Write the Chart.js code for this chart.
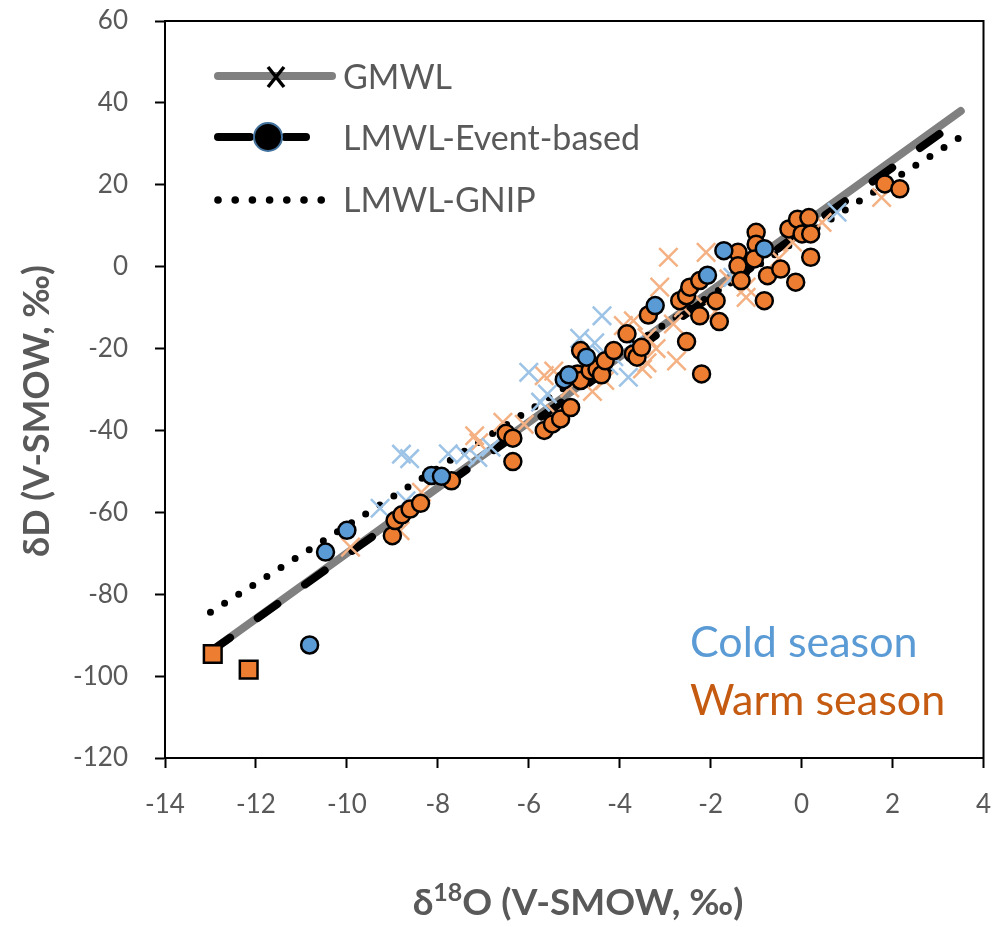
<!DOCTYPE html>
<html>
<head>
<meta charset="utf-8">
<script src="https://cdn.jsdelivr.net/npm/chart.js@4.4.1/dist/chart.umd.min.js"></script>
<style>
  body { margin: 0; background: #fff; }
</style>
</head>
<body>
<canvas id="chart" width="999" height="927"></canvas>
<script>
  // d18O, dD pairs
  const warmCircles = [
    [-9.00,-65.7],[-8.94,-62.0],[-8.79,-60.6],[-8.61,-59.2],[-8.38,-57.8],[-7.70,-52.3],
    [-6.50,-40.7],[-6.35,-41.9],[-6.35,-47.6],[-5.66,-40.0],[-5.48,-38.4],[-5.30,-37.2],[-5.08,-34.4],
    [-4.93,-26.2],[-4.86,-27.8],[-4.65,-25.4],[-4.50,-25.0],[-4.40,-26.4],[-4.86,-20.5],[-4.32,-23.0],[-4.13,-20.5],
    [-3.84,-16.4],[-3.70,-21.3],[-3.62,-22.1],[-3.52,-19.7],[-3.37,-11.8],
    [-2.68,-8.3],[-2.53,-7.1],[-2.46,-5.0],[-2.24,-3.4],[-1.88,-8.3],[-2.24,-12.0],[-1.81,-13.4],[-2.53,-18.3],[-2.20,-26.2],
    [-1.00,8.4],[-0.28,9.2],[-0.09,11.6],[0.16,12.0],[0.01,8.0],[0.20,8.0],[-1.00,5.5],[-1.04,1.9],[-1.40,3.5],[-1.40,0.2],
    [-1.33,-3.4],[-0.75,-2.2],[-0.46,-0.6],[-0.13,-3.8],[0.20,2.3],[-0.82,-8.3],[1.83,20.2],[2.16,19.0]
  ];
  const coldCircles = [
    [-10.82,-92.4],[-10.47,-69.7],[-10.00,-64.4],[-8.14,-51.0],[-7.92,-51.2],[-5.22,-27.6],
    [-5.12,-26.4],[-4.73,-22.1],[-3.22,-9.5],[-2.07,-2.1],[-1.71,3.9],[-0.82,4.4]
  ];
  const warmSquares = [[-12.95,-94.6],[-12.16,-98.4]];
  const coldCrosses = [
    [-9.27,-59.0],[-8.70,-57.2],[-8.80,-45.8],[-8.62,-46.9],[-7.77,-45.7],[-7.41,-45.9],[-7.12,-46.6],[-6.83,-44.1],
    [-6.00,-25.8],[-5.74,-33.1],[-5.59,-31.1],[-4.39,-12.0],[-4.88,-17.5],[-4.55,-18.6],[-4.24,-24.2],[-4.13,-22.0],
    [-4.40,-21.5],[-3.81,-27.0],[-3.70,-19.3],[-1.51,-2.6],[0.78,13.3]
  ];
  const warmCrosses = [
    [-9.92,-68.5],[-8.83,-64.5],[-8.36,-55.1],[-7.19,-41.3],[-7.10,-43.0],[-6.57,-38.0],[-6.10,-38.5],[-5.66,-26.6],
    [-5.45,-25.5],[-5.40,-36.0],[-5.10,-29.6],[-4.60,-30.5],[-4.33,-27.8],[-3.92,-14.4],[-3.70,-13.2],[-3.50,-25.0],
    [-3.40,-23.5],[-3.40,-17.3],[-3.20,-20.0],[-3.12,-5.0],[-2.93,2.3],[-2.82,-14.0],[-2.75,-23.0],[-2.60,-10.0],
    [-2.40,-6.5],[-2.10,3.5],[-1.90,-11.0],[-1.60,-3.0],[-1.22,-5.0],[-1.22,-7.5],[-0.50,2.0],[-0.20,6.0],
    [0.45,10.8],[1.76,16.9]
  ];
  // line end points
  const gmwlLine = [[-13,-94],[3.5,38]];
  const eventLine = [[-13,-94],[3.3,34.5]];
  const gnipLine = [[-13,-84.4],[3.5,31.7]];

  const xTicks = [-14,-12,-10,-8,-6,-4,-2,0,2,4];
  const yTicks = [-120,-100,-80,-60,-40,-20,0,20,40,60];

  const FONT = 'Lato, "Open Sans", sans-serif';
  const GREY_TEXT = '#595959';
  const pts = arr => arr.map(p => ({x: p[0], y: p[1]}));

  const overlay = {
    id: 'overlay',
    afterDraw(chart) {
      const ctx = chart.ctx;
      const a = chart.chartArea;
      ctx.save();
      // box round the plot
      ctx.strokeStyle = '#000';
      ctx.lineWidth = 2;
      ctx.strokeRect(a.left, a.top, a.right - a.left, a.bottom - a.top);

      // legend
      ctx.lineCap = 'round';
      ctx.strokeStyle = '#808080';
      ctx.lineWidth = 8;
      ctx.beginPath(); ctx.moveTo(218, 76); ctx.lineTo(332, 76); ctx.stroke();
      ctx.strokeStyle = '#000';
      ctx.lineWidth = 3.5;
      ctx.lineCap = 'butt';
      ctx.beginPath();
      ctx.moveTo(268, 67); ctx.lineTo(284, 87);
      ctx.moveTo(284, 67); ctx.lineTo(268, 87);
      ctx.stroke();

      ctx.lineCap = 'round';
      ctx.lineWidth = 8;
      ctx.beginPath(); ctx.moveTo(218, 137); ctx.lineTo(250, 137);
      ctx.moveTo(285, 137); ctx.lineTo(306, 137); ctx.stroke();
      ctx.beginPath(); ctx.arc(268, 137, 14, 0, Math.PI * 2);
      ctx.fillStyle = '#000'; ctx.fill();
      ctx.strokeStyle = '#41719C'; ctx.lineWidth = 2; ctx.stroke();

      ctx.fillStyle = '#000';
      for (let i = 0; i < 7; i++) {
        ctx.beginPath(); ctx.arc(218 + i * 17.2, 200, 3.8, 0, Math.PI * 2); ctx.fill();
      }

      ctx.fillStyle = GREY_TEXT;
      ctx.font = '34px ' + FONT;
      ctx.textAlign = 'left';
      ctx.textBaseline = 'middle';
      ctx.fillText('GMWL', 343, 78);
      ctx.fillText('LMWL-Event-based', 343, 139);
      ctx.fillText('LMWL-GNIP', 343, 201);

      // season labels
      ctx.font = '43px ' + FONT;
      ctx.fillStyle = '#5B9BD5';
      ctx.fillText('Cold season', 690, 643);
      ctx.fillStyle = '#C55A11';
      ctx.fillText('Warm season', 690, 701);

      // axis titles
      ctx.fillStyle = GREY_TEXT;
      ctx.font = 'bold 36px ' + FONT;
      ctx.save();
      ctx.translate(37, 411);
      ctx.rotate(-Math.PI / 2);
      ctx.textAlign = 'center';
      ctx.fillText('\u03B4D (V-SMOW, \u2030)', 0, 0);
      ctx.restore();

      const big = 'bold 37px ' + FONT, small = 'bold 25px ' + FONT;
      ctx.font = big;
      const w1 = ctx.measureText('\u03B4').width;
      const w3 = ctx.measureText('O (V-SMOW, \u2030)').width;
      ctx.font = small;
      const w2 = ctx.measureText('18').width;
      let x = 578 - (w1 + w2 + w3) / 2;
      const base = 915;
      ctx.textBaseline = 'alphabetic';
      ctx.font = big; ctx.fillText('\u03B4', x, base); x += w1;
      ctx.font = small; ctx.fillText('18', x, base - 14); x += w2;
      ctx.font = big; ctx.fillText('O (V-SMOW, \u2030)', x, base);
      ctx.restore();
    }
  };

  const marker = (label, data, style, radius, fill, stroke, width) => ({
    label: label, data: pts(data), showLine: false,
    pointStyle: style, pointRadius: radius,
    pointBackgroundColor: fill, pointBorderColor: stroke, pointBorderWidth: width
  });
  const line = (label, data, color, width, dash) => ({
    label: label, data: pts(data), showLine: true, pointRadius: 0,
    borderColor: color, borderWidth: width, borderDash: dash,
    borderCapStyle: 'round'
  });

  const data = {
    datasets: [
      marker('Warm season (first events)', warmSquares, 'rect', 12.5, '#ED7D31', '#000', 2.5),
      marker('Cold season', coldCircles, 'circle', 8.5, '#5B9BD5', '#000', 2.5),
      marker('Warm season', warmCircles, 'circle', 8.5, '#ED7D31', '#000', 2.5),
      marker('Cold season GNIP', coldCrosses, 'crossRot', 13, '#9DC3E6', '#9DC3E6', 2.5),
      marker('Warm season GNIP', warmCrosses, 'crossRot', 13, '#F4B183', '#F4B183', 2.5),
      line('LMWL-GNIP', gnipLine, '#000', 7, [0, 16.7]),
      line('LMWL-Event-based', eventLine, '#000', 8, [24, 34]),
      line('GMWL', gmwlLine, '#808080', 8, [])
    ]
  };

  const tickFont = {family: FONT, size: 26};
  const axisGrid = {drawOnChartArea: false, drawTicks: true, tickLength: 10, tickColor: '#000', tickWidth: 2};
  // keep the plot box where the figure has it: no extra room for overhanging labels
  const noOverhang = s => { s.paddingLeft = 0; s.paddingRight = 0; s.paddingTop = 0; s.paddingBottom = 0; };

  const config = {
    type: 'scatter',
    data: data,
    options: {
      responsive: false,
      animation: false,
      events: [],
      layout: {padding: {top: 21, right: 10, left: 2, bottom: 0}},
      plugins: {legend: {display: false}, tooltip: {enabled: false}},
      scales: {
        x: {
          type: 'linear', min: xTicks[0], max: xTicks[xTicks.length - 1],
          afterBuildTicks: s => { s.ticks = xTicks.map(v => ({value: v})); },
          afterFit: s => { s.height = 169; noOverhang(s); },
          ticks: {font: tickFont, color: GREY_TEXT, padding: 21, maxRotation: 0},
          grid: axisGrid,
          border: {color: '#000', width: 2}
        },
        y: {
          type: 'linear', min: yTicks[0], max: yTicks[yTicks.length - 1],
          afterBuildTicks: s => { s.ticks = yTicks.map(v => ({value: v})); },
          afterFit: s => { s.width = 163; noOverhang(s); },
          ticks: {font: tickFont, color: GREY_TEXT, padding: 27},
          grid: axisGrid,
          border: {color: '#000', width: 2}
        }
      }
    },
    plugins: [overlay]
  };

  const chart = new Chart(document.getElementById('chart'), config);
</script>
</body>
</html>
